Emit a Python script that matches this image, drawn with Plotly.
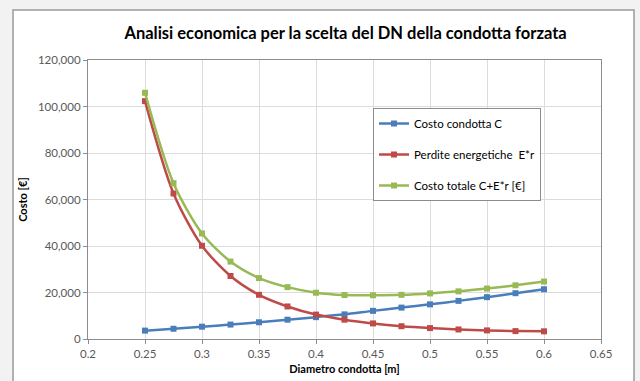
import plotly.graph_objects as go

# Diametri della condotta [m]
diametro = [0.25, 0.275, 0.3, 0.325, 0.35, 0.375, 0.4, 0.425, 0.45, 0.475,
            0.5, 0.525, 0.55, 0.575, 0.6]

# Costo della condotta C [€]
costo_condotta = [3600, 4400, 5300, 6200, 7200, 8300, 9400, 10600, 12100, 13500,
                  14900, 16400, 18000, 19700, 21400]

# Perdite energetiche E*r [€]
perdite = [102300, 62600, 40100, 27100, 19000, 14000, 10500, 8300, 6700, 5500,
           4700, 4100, 3700, 3400, 3300]

# Costo totale C+E*r [€]
costo_totale = [c + p for c, p in zip(costo_condotta, perdite)]

serie = [
    ("Costo condotta C", costo_condotta, "#4a7ebb"),
    ("Perdite energetiche  E*r", perdite, "#be4b48"),
    ("Costo totale C+E*r [€]", costo_totale, "#98b954"),
]

FONT = "Lato, 'Open Sans', sans-serif"

fig = go.Figure()
for i, (nome, valori, colore) in enumerate(serie):
    fig.add_trace(go.Scatter(
        x=diametro, y=valori, name=nome, mode="lines+markers",
        legendgroup=f"g{i}",
        line=dict(color=colore, width=2.5, shape="spline", smoothing=0.8),
        marker=dict(symbol="square", size=6, color=colore),
    ))

axis_common = dict(
    showline=True, linecolor="#8c8c8c", linewidth=1.2, mirror=True,
    showgrid=True, gridcolor="#dcdcdc", gridwidth=1,
    ticks="outside", ticklen=4, tickcolor="#8c8c8c",
    tickfont=dict(family=FONT, size=11.5, color="#595959"),
    zeroline=False, automargin=False,
)

fig.update_layout(
    width=640, height=381,
    margin=dict(l=88, r=39, t=60, b=42),
    paper_bgcolor="white", plot_bgcolor="white",
    title=dict(
        text="<b>Analisi economica per la scelta del DN della condotta forzata</b>",
        font=dict(family=FONT, size=16.5, color="#000000"),
        x=0.54, xanchor="center", y=1 - 33 / 381, yanchor="middle",
    ),
    xaxis=dict(
        range=[0.2, 0.65], dtick=0.05, tick0=0.2,
        title=dict(text="<b>Diametro condotta [m]</b>",
                   font=dict(family=FONT, size=11, color="#000000"), standoff=6),
        **axis_common,
    ),
    yaxis=dict(
        range=[0, 120000], dtick=20000, tickformat=",d",
        title=dict(text="<b>Costo [€]</b>",
                   font=dict(family=FONT, size=11, color="#000000"), standoff=8),
        **axis_common,
    ),
    legend=dict(
        x=(373 - 88) / 513, y=(339 - 108) / 279, xanchor="left", yanchor="top",
        bordercolor="#8c8c8c", borderwidth=1, bgcolor="white",
        font=dict(family=FONT, size=11.5, color="#000000"),
        traceorder="grouped", tracegroupgap=12,
    ),
    shapes=[
        # ombra esterna e cornice del grafico
        dict(type="rect", xref="paper", yref="paper", layer="below",
             x0=-88 / 513, x1=(640 - 88) / 513, y0=-42 / 279, y1=(381 - 42) / 279,
             fillcolor="#f2f2f2", line=dict(width=0)),
        dict(type="rect", xref="paper", yref="paper", layer="below",
             x0=(13 - 88) / 513, x1=(634 - 88) / 513,
             y0=(339 - 400) / 279, y1=(339 - 10) / 279,
             fillcolor="white", line=dict(color="#9a9a9a", width=1.5)),
    ],
)

fig.write_html("out.html")
